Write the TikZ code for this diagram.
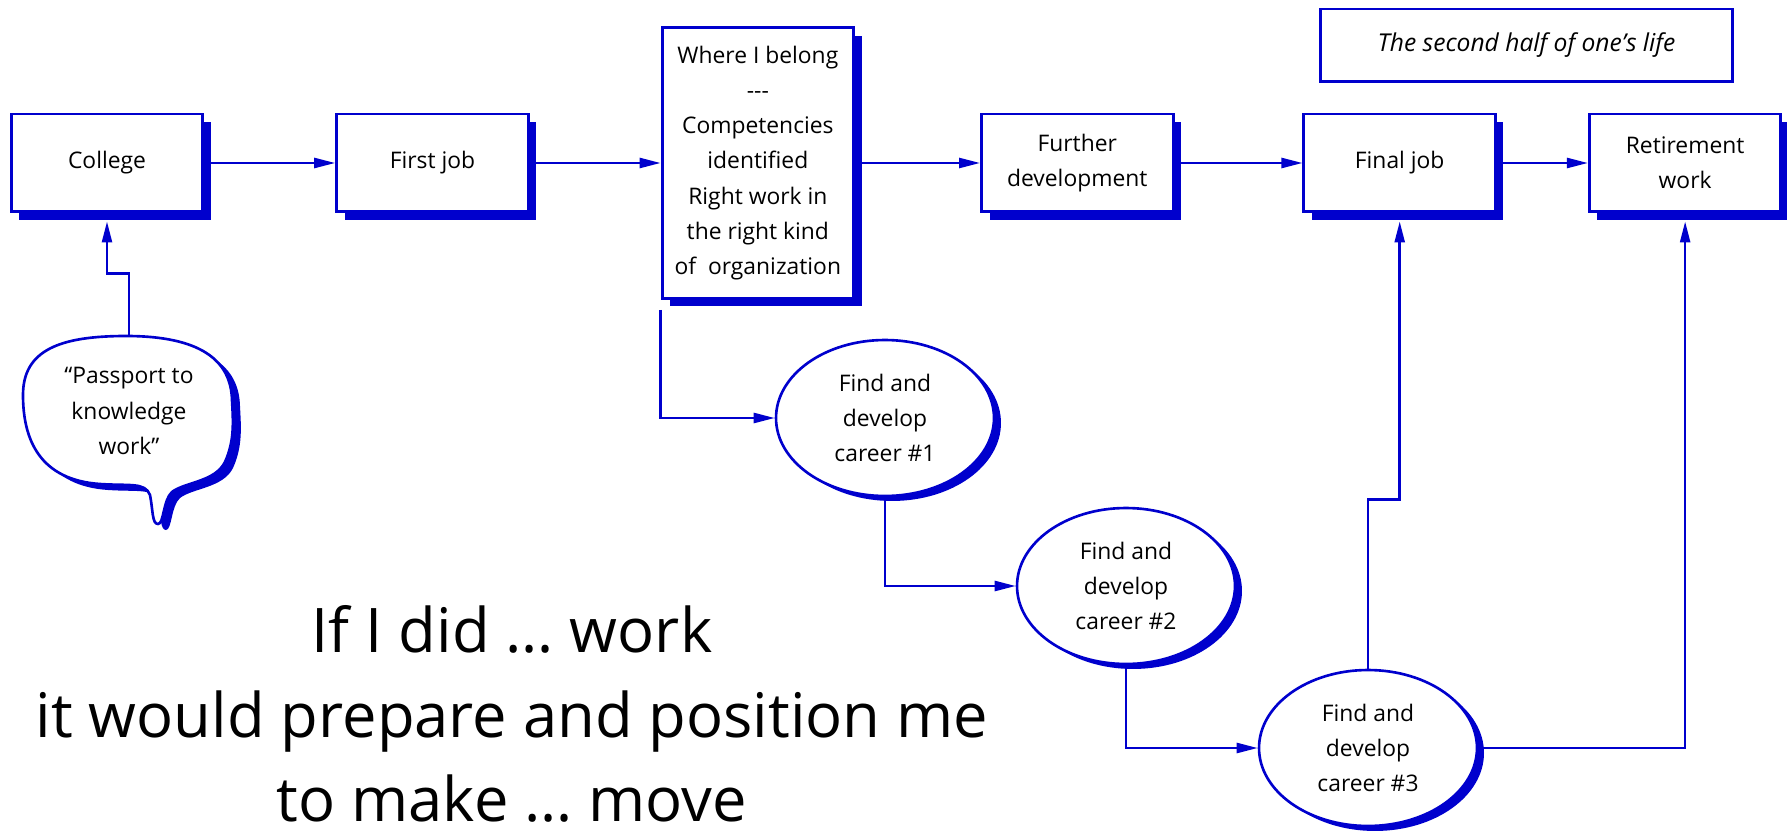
\documentclass[tikz,border=0pt]{standalone}
\usepackage{fontspec}
\setmainfont{Open Sans}
\usetikzlibrary{arrows.meta,shapes.geometric,shadows}
\usetikzlibrary{positioning}

\definecolor{cblue}{RGB}{0,0,205}
\newcommand\bubbleoutline{(126,336) .. controls (60,336) and (23,350) .. (23,395)
  .. controls (23,440) and (40,480) .. (100,484)
  .. controls (130,486) and (145,482) .. (150,495)
  .. controls (153,510) and (152,524) .. (158,524)
  .. controls (164,524) and (163,500) .. (172,492)
  .. controls (185,482) and (215,482) .. (225,462)
  .. controls (235,440) and (233,420) .. (232,400)
  .. controls (231,360) and (200,336) .. (126,336) -- cycle}

\begin{document}
\begin{tikzpicture}[->,>={Triangle[length=0.42cm,width=0.2cm]},x=0.02cm,y=-0.02cm,
                    node distance=2.62cm,font=\fontsize{13}{20}\selectfont,
                    every edge/.style={draw=cblue,line width=1.4pt}]
  \tikzstyle{box}=[rectangle,draw=cblue,fill=white,line width=1.7pt,align=center,
                   minimum width=3.83cm,minimum height=1.96cm,
                   drop shadow={shadow xshift=0.16cm,shadow yshift=-0.16cm,fill=cblue,opacity=1}]
  \tikzstyle{career}=[ellipse,draw=cblue,fill=white,line width=1.5pt,align=center,inner sep=0pt,
                      minimum width=4.36cm,minimum height=3.12cm,
                      drop shadow={shadow xshift=0.14cm,shadow yshift=-0.1cm,fill=cblue,opacity=1}]
  \tikzstyle{link}=[draw=cblue,line width=1.4pt]
  \useasboundingbox (0,0) rectangle (1787,834);

  \node[box] (C) at (107,163) {College};
  \node[box] (F) [right=of C] {First job};
  \node[box,minimum height=5.42cm] (W) [right=of F] {Where I belong\\-{}-{}-\\Competencies\\identified\\Right work in\\the right kind\\of~ organization};
  \node[box] (D) [right=2.5cm of W] {Further\\development};
  \node[box] (J) [right=2.56cm of D] {Final job};
  \node[box] (R) [right=1.82cm of J] {Retirement\\work};
  \node[draw=cblue,line width=1.7pt,minimum width=8.26cm,minimum height=1.46cm,
        font=\fontsize{14}{20}\selectfont\itshape] (H) at (1526.5,45.5) {The second half of one's life};

  % speech bubble
  \fill[cblue,shift={(8,6)}] \bubbleoutline;
  \draw[-,cblue,line width=1.5pt,fill=white] \bubbleoutline;
  \node[align=center,minimum height=2.96cm] (P) at (129,411) {“Passport to\\knowledge\\work”};

  \node[career] (E1) at (885,418) {Find and\\develop\\career \#1};
  \node[career] (E2) at (1126,586) {Find and\\develop\\career \#2};
  \node[career] (E3) at (1368,748) {Find and\\develop\\career \#3};

  \node[align=center,inner sep=0pt,font=\fontsize{35}{48}\selectfont] (T) at (512,714) {If I did … work\\it would prepare and position me\\to make … move};

  \path (C) edge (F) (F) edge (W) (W) edge (D) (D) edge (J) (J) edge (R);
  \draw[link,shorten >=0.16cm] (P.north) -- ++(0,-63) -| (C.south);
  \draw[link,shorten <=0.2cm] (W.south west) |- (E1);
  \draw[link] (E1) |- (E2);
  \draw[link] (E2) |- (E3);
  \draw[link,shorten >=0.16cm] (E3.north) -- ++(0,-169) -| (J.south);
  \draw[link,shorten >=0.16cm] (E3) -| (R.south);
\end{tikzpicture}
\end{document}
